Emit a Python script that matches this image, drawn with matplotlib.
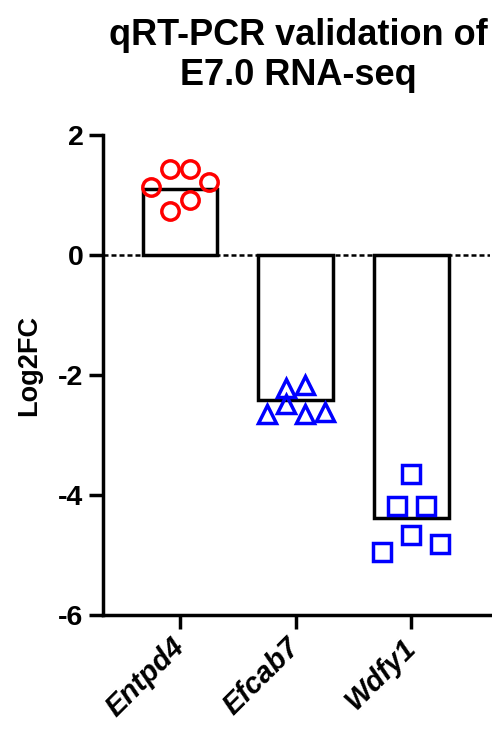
import numpy as np
import matplotlib
matplotlib.use("Agg")
import matplotlib.pyplot as plt
from matplotlib.transforms import ScaledTranslation

plt.rcParams["font.family"] = ["Liberation Sans", "DejaVu Sans"]
plt.rcParams["font.weight"] = "bold"

# data
genes = ["Entpd4", "Efcab7", "Wdfy1"]
bar_means = [1.10, -2.42, -4.38]
entpd4 = [1.14, 1.44, 1.44, 1.21, 0.73, 0.92]
efcab7 = [-2.21, -2.17, -2.65, -2.48, -2.65, -2.62]
wdfy1 = [-3.65, -4.18, -4.18, -4.95, -4.67, -4.82]
replicates = [entpd4, efcab7, wdfy1]

markers = ["o", "^", "s"]
colors = ["#ff0000", "#0000ff", "#0000ff"]
sizes = [12.5, 12.5, 13.5]


def row_swarm(values, row_height=0.33, span=0.5):
    """Group points into rows by y (bottom up), spread each row around 0."""
    vals = np.asarray(values, dtype=float)
    order = np.argsort(vals, kind="stable")
    rows = []
    current = []
    start = None
    for i in order:
        if start is None or vals[i] - start > row_height:
            if current:
                rows.append(current)
            current = [i]
            start = vals[i]
        else:
            current.append(i)
    if current:
        rows.append(current)
    max_n = max(len(r) for r in rows)
    step = span / (max_n - 1) if max_n > 1 else 0
    offsets = np.zeros(len(vals))
    for r in rows:
        r = sorted(r)  # keep replicate order within a row
        n = len(r)
        for k, idx in enumerate(r):
            offsets[idx] = (k - (n - 1) / 2) * step
    return offsets


fig = plt.figure(figsize=(4.92, 7.35), dpi=100)
ax = fig.add_axes([103 / 492, 1 - 615 / 735, (490 - 103) / 492, 480 / 735])

lw = 2.5
x = np.arange(len(genes))
ax.axhline(0, color="black", lw=1.8, ls=(0, (2.0, 1.2)), zorder=1)
ax.bar(x, bar_means, width=0.645, facecolor="none", edgecolor="black",
       linewidth=lw, zorder=2)

for i, vals in enumerate(replicates):
    offs = row_swarm(vals)
    ax.plot(x[i] + offs, vals, ls="none", marker=markers[i], ms=sizes[i],
            mfc="none", mec=colors[i], mew=lw, zorder=3, clip_on=False)

ax.set_xlim(-0.667, 2.68)
ax.set_ylim(-6, 2)
ax.set_yticks([-6, -4, -2, 0, 2])
ax.set_yticklabels(["-6", "-4", "-2", "0", "2"])
ax.set_xticks(x)
ax.set_xticklabels(genes, rotation=45, ha="right", va="center",
                   rotation_mode="anchor", style="italic", fontweight="bold",
                   fontsize=21)
shift = ScaledTranslation(6 / 100, -4 / 100, fig.dpi_scale_trans)
for lbl in ax.get_xticklabels():
    lbl.set_transform(lbl.get_transform() + shift)

for side in ["top", "right"]:
    ax.spines[side].set_visible(False)
for side in ["left", "bottom"]:
    ax.spines[side].set_linewidth(lw)

ax.tick_params(axis="both", width=lw, length=10, pad=4)
ax.tick_params(axis="y", labelsize=20.5)
ax.tick_params(axis="x", pad=10)
ax.set_ylabel("Log2FC", fontsize=19.5, fontweight="bold")
ax.yaxis.set_label_coords((42 - 103) / 387, (615 - 365) / 480)

fig.text(298 / 492, 1 - 18 / 735, "qRT-PCR validation of\nE7.0 RNA-seq",
         ha="center", va="top", fontsize=26, fontweight="bold",
         linespacing=1.2)

fig.savefig("out.png", dpi=100)
